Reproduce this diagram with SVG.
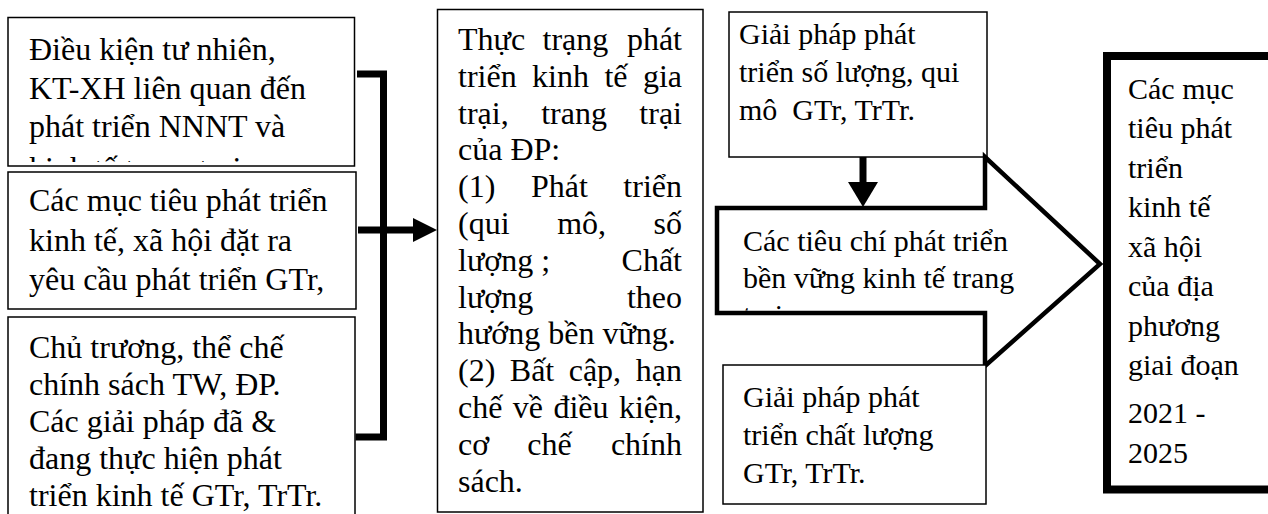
<svg xmlns="http://www.w3.org/2000/svg" width="1268" height="514" viewBox="0 0 1268 514">
  <style>
    .box { fill: #fff; stroke: #000; stroke-width: 1.5; }
    .callout { fill: #fff; stroke: #000; stroke-width: 4.5; stroke-linejoin: miter; }
    .goal { fill: #fff; stroke: #000; stroke-width: 8; }
    .t { font-family: "Liberation Serif", "Times New Roman", serif; font-size: 32px; fill: #000; }
    .s { font-size: 30px; }
    .e { text-anchor: end; }
    .wire { fill: none; stroke: #000; stroke-width: 7; stroke-linecap: butt; stroke-linejoin: miter; }
    .head { fill: #000; stroke: none; }
  </style>
  <defs>
    <clipPath id="clip-n1"><rect x="9" y="18" width="345" height="144"/></clipPath>
    <clipPath id="clip-n6"><polygon points="719,210 983,210 983,162 1096,264 983,362 983,310.5 719,310.5"/></clipPath>
  </defs>

  <rect width="1268" height="514" fill="#fff"/>

  <!-- inputs: conditions, goals, policies -->
  <g id="n1">
    <rect class="box" x="8" y="17.5" width="346.5" height="148.5"/>
    <g clip-path="url(#clip-n1)">
      <text class="t" x="29" y="60">Điều kiện tư nhiên,</text>
      <text class="t" x="29" y="99">KT-XH liên quan đến</text>
      <text class="t" x="29" y="137">phát triển NNNT và</text>
      <text class="t" x="29" y="179">kinh tế trang trại</text>
    </g>
  </g>

  <g id="n2">
    <rect class="box" x="8" y="172" width="348" height="137"/>
    <text class="t" x="29" y="211">Các mục tiêu phát triển</text>
    <text class="t" x="29" y="251">kinh tế, xã hội đặt ra</text>
    <text class="t" x="29" y="290">yêu cầu phát triển GTr,</text>
  </g>

  <g id="n3">
    <rect class="box" x="8" y="317" width="347" height="210"/>
    <text class="t" x="29" y="358">Chủ trương, thể chế</text>
    <text class="t" x="29" y="395">chính sách TW, ĐP.</text>
    <text class="t" x="29" y="432">Các giải pháp đã &amp;</text>
    <text class="t" x="29" y="469">đang thực hiện phát</text>
    <text class="t" x="29" y="506">triển kinh tế GTr, TrTr.</text>
  </g>

  <!-- current state, justified column -->
  <g id="n4">
    <rect class="box" x="437.5" y="9.5" width="265.5" height="502.5"/>
    <text class="t" y="50"><tspan x="458">Thực</tspan><tspan x="542.5">trạng</tspan><tspan class="e" x="682">phát</tspan></text>
    <text class="t" y="86.8"><tspan x="458">triển</tspan><tspan x="532">kinh</tspan><tspan x="604.4">tế</tspan><tspan class="e" x="682">gia</tspan></text>
    <text class="t" y="123.6"><tspan x="458">trại,</tspan><tspan x="541.2">trang</tspan><tspan class="e" x="682">trại</tspan></text>
    <text class="t" x="458" y="160.4">của ĐP:</text>
    <text class="t" y="197.2"><tspan x="458">(1)</tspan><tspan x="531">Phát</tspan><tspan class="e" x="682">triển</tspan></text>
    <text class="t" y="234"><tspan x="458">(qui</tspan><tspan x="557.2">mô,</tspan><tspan class="e" x="682">số</tspan></text>
    <text class="t" y="270.8"><tspan x="458">lượng ;</tspan><tspan class="e" x="682">Chất</tspan></text>
    <text class="t" y="307.6"><tspan x="458">lượng</tspan><tspan class="e" x="682">theo</tspan></text>
    <text class="t" x="458" y="344.4">hướng bền vững.</text>
    <text class="t" y="381.2"><tspan x="458">(2)</tspan><tspan x="509.8">Bất</tspan><tspan x="568.7">cập,</tspan><tspan class="e" x="682">hạn</tspan></text>
    <text class="t" y="418"><tspan x="458">chế</tspan><tspan x="512.8">về</tspan><tspan x="553.4">điều</tspan><tspan class="e" x="682">kiện,</tspan></text>
    <text class="t" y="454.8"><tspan x="458">cơ</tspan><tspan x="527.3">chế</tspan><tspan class="e" x="682">chính</tspan></text>
    <text class="t" x="458" y="491.6">sách.</text>
  </g>

  <!-- solutions -->
  <g id="n5">
    <rect class="box" x="729" y="12" width="258" height="145"/>
    <text class="t s" x="739" y="44">Giải pháp phát</text>
    <text class="t s" x="739" y="82">triển số lượng, qui</text>
    <text class="t s" x="739" y="120" xml:space="preserve">mô  GTr, TrTr.</text>
  </g>

  <g id="n6">
    <polygon class="callout" points="717,208 985,208 985,157 1100,264 985,366 985,313 717,313"/>
    <g clip-path="url(#clip-n6)">
      <text class="t s" x="743" y="251">Các tiêu chí phát triển</text>
      <text class="t s" x="743" y="288">bền vững kinh tế trang</text>
      <text class="t s" x="743" y="325">trại.</text>
    </g>
  </g>

  <g id="n7">
    <rect class="box" x="723" y="365" width="263" height="139"/>
    <text class="t s" x="743" y="407">Giải pháp phát</text>
    <text class="t s" x="743" y="445">triển chất lượng</text>
    <text class="t s" x="743" y="483">GTr, TrTr.</text>
  </g>

  <!-- development goals -->
  <g id="n8">
    <rect class="goal" x="1107" y="56" width="200" height="433.5"/>
    <text class="t s" x="1128" y="99">Các mục</text>
    <text class="t s" x="1128" y="138">tiêu phát</text>
    <text class="t s" x="1128" y="177.5">triển</text>
    <text class="t s" x="1128" y="217">kinh tế</text>
    <text class="t s" x="1128" y="256.5">xã hội</text>
    <text class="t s" x="1128" y="296">của địa</text>
    <text class="t s" x="1128" y="335.5">phương</text>
    <text class="t s" x="1128" y="375">giai đoạn</text>
    <text class="t s" x="1128" y="423">2021 -</text>
    <text class="t s" x="1128" y="463">2025</text>
  </g>

  <g id="connectors">
    <path class="wire" d="M357,74 H383.5 V437 H355.5"/>
    <line class="wire" x1="358" y1="230" x2="415" y2="230"/>
    <polygon class="head" points="413,218 437,230 413,242"/>
    <line class="wire" x1="863" y1="157" x2="863" y2="184"/>
    <polygon class="head" points="848,182 878,182 863,207"/>
  </g>
</svg>
